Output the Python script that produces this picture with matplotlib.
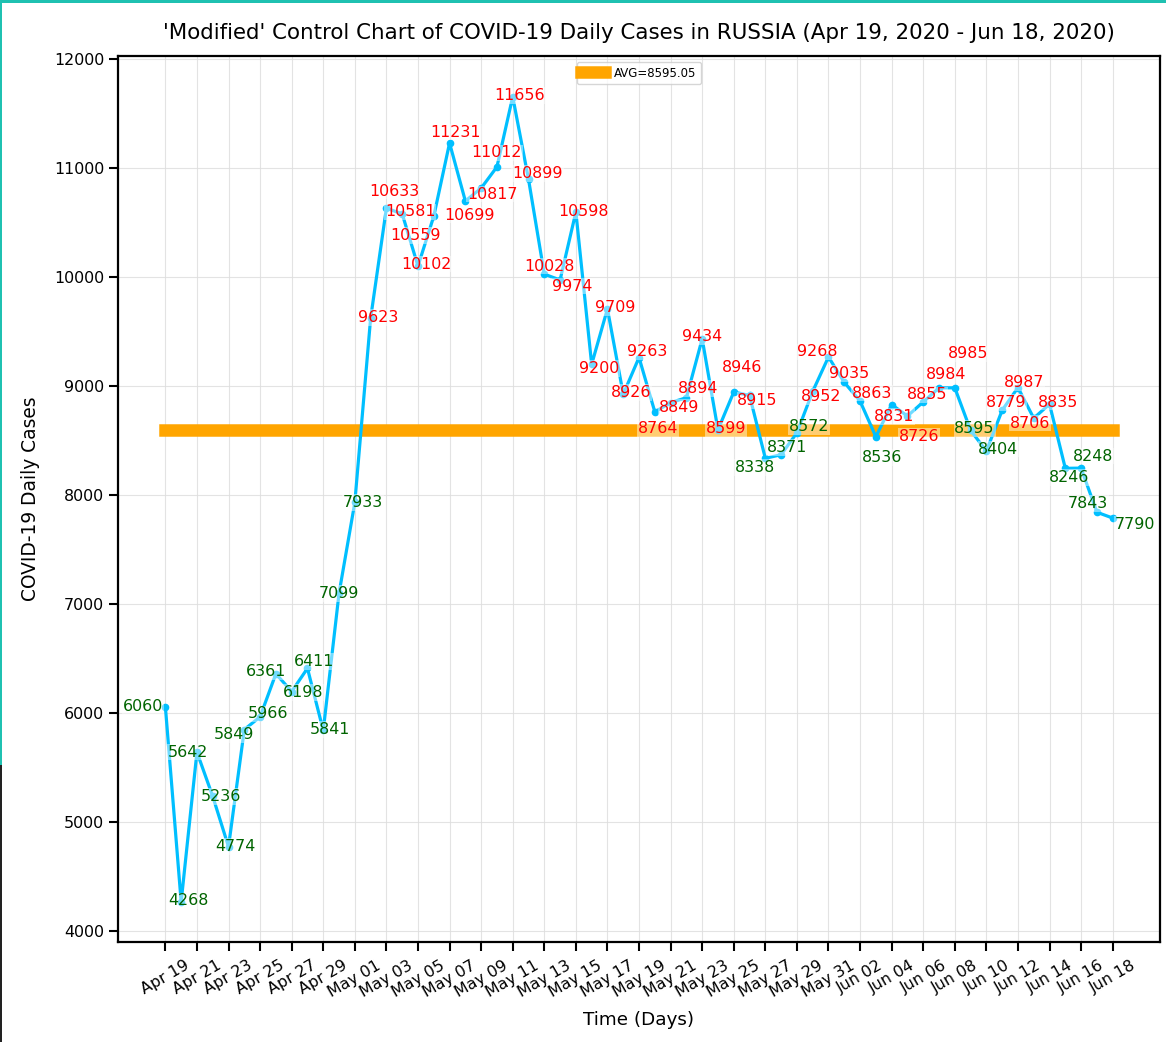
import matplotlib

matplotlib.use("Agg")
import matplotlib.pyplot as plt  # noqa: E402
import numpy as np  # noqa: E402
import pandas as pd  # noqa: E402
from matplotlib.patches import Rectangle  # noqa: E402

# Daily new COVID-19 cases in Russia, Apr 19 - Jun 18 2020
start_date = "2020-04-19"
daily_cases = [
    6060, 4268, 5642, 5236, 4774, 5849, 5966, 6361, 6198, 6411, 5841, 7099,
    7933, 9623, 10633, 10581, 10102, 10559, 11231, 10699, 10817, 11012, 11656,
    10899, 10028, 9974, 10598, 9200, 9709, 8926, 9263, 8764, 8849, 8894, 9434,
    8599, 8946, 8915, 8338, 8371, 8572, 8952, 9268, 9035, 8863, 8536, 8831,
    8726, 8855, 8984, 8985, 8595, 8404, 8779, 8987, 8706, 8835, 8246, 8248,
    7843, 7790,
]

# label offsets in pixels (dx, dy with dy pointing down), mimicking the
# de-overlapped placement of the original
label_offsets = [
    (-22, 0), (7, -1), (-9, 0), (8, 0), (7, 0), (-10, 5), (8, -3), (-10, -2),
    (11, 1), (7, -7), (7, -1), (0, 0), (8, 0), (8, -1), (8, -17), (8, -2),
    (8, -2), (-18, 19), (6, -11), (4, 14), (11, 6), (0, -14), (7, -1),
    (9, -6), (5, -8), (12, 6), (8, -1), (7, 4), (8, -1), (8, -2), (8, -6),
    (3, 17), (8, 5), (12, -9), (0, -2), (8, -1), (8, -25), (8, 5), (-10, 9),
    (6, -7), (12, -6), (8, 5), (-11, -5), (5, -9), (12, -8), (6, 21),
    (2, 12), (12, 20), (4, -7), (7, -13), (13, -34), (4, -2), (12, -2),
    (4, -8), (6, -5), (-4, 5), (9, -2), (4, 9), (12, -12), (-9, -9), (22, 6),
]

dates = pd.date_range(start_date, periods=len(daily_cases), freq="D")
x = np.arange(len(daily_cases))
avg = float(np.mean(daily_cases))

fig = plt.figure(figsize=(11.66, 10.42), dpi=100)
ax = fig.add_axes([0.1012, 0.096, 0.8937, 0.8503])

ax.plot(x, daily_cases, color="deepskyblue", lw=2.3, marker="o", ms=4.5, zorder=3)
ax.plot([x[0], x[-1]], [avg, avg], color="orange", lw=9, zorder=2,
        label=f"AVG={avg:.2f}")

for xi, val, (dx, dy) in zip(x, daily_cases, label_offsets):
    ax.annotate(
        str(val), (xi, val), xytext=(dx, -dy), textcoords="offset pixels",
        ha="center", va="center", fontsize=11.4,
        color="red" if val > avg else "darkgreen",
        bbox=dict(boxstyle="square,pad=0.05", fc="white", ec="none", alpha=0.45),
        zorder=4,
    )

ax.set_xticks(x[::2])
ax.set_xticklabels([d.strftime("%b %d") for d in dates[::2]], rotation=30)
ax.set_ylim(3900, 12030)
ax.set_xlim(-3, 63)
ax.grid(True, color="#dddddd", lw=0.8, alpha=0.8)
ax.tick_params(labelsize=11.4, length=6.5, width=1.5)
ax.tick_params(axis="x", pad=5)
for sp in ax.spines.values():
    sp.set_linewidth(1.6)

ax.set_xlabel("Time (Days)", fontsize=13.2, labelpad=8)
ax.set_ylabel("COVID-19 Daily Cases", fontsize=13.4, labelpad=10)
ax.set_title("'Modified' Control Chart of COVID-19 Daily Cases in RUSSIA "
             "(Apr 19, 2020 - Jun 18, 2020)", fontsize=15.4, pad=12)
ax.legend(loc="upper center", fontsize=8.5)

# notebook-cell frame visible around the original screenshot
fig.add_artist(Rectangle((0, 1 - 3 / 1042), 1, 3 / 1042, transform=fig.transFigure,
                         color="#1fc1b1", lw=0))
fig.add_artist(Rectangle((0, 1 - 765 / 1042), 2 / 1166, 765 / 1042,
                         transform=fig.transFigure, color="#1fc1b1", lw=0))
fig.add_artist(Rectangle((0, 0), 2 / 1166, 1 - 765 / 1042,
                         transform=fig.transFigure, color="#222222", lw=0))

fig.savefig("out.png", dpi=100)
